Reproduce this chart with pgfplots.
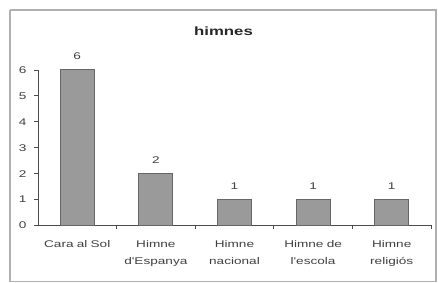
\documentclass[border=0pt]{standalone}
\usepackage{pgfplots}
\pgfplotsset{compat=1.18}
\usepackage{fontspec}
\setmainfont{Liberation Sans}
\newfontfamily\wide[FakeStretch=1.4]{Liberation Sans}
\definecolor{barfill}{HTML}{9A9A9A}
\definecolor{frame}{HTML}{B0B0B0}
\begin{document}
\begin{tikzpicture}
\path (0pt,0pt) rectangle (328.5pt,-212.25pt);
\draw[frame, line width=1.5pt] (7.5pt,-7.5pt) -- (328.5pt,-7.5pt);
\draw[frame, line width=0.8pt] (7.5pt,-7.5pt) -- (7.5pt,-211.5pt) -- (327.75pt,-211.5pt) -- (327.75pt,-7.5pt);
\node[font=\wide\fontsize{9}{10}\selectfont\bfseries, text=black!85] at (168pt,-23.25pt) {himnes};
\begin{axis}[
  at={(28.5pt,-169.5pt)}, anchor=south west,
  width=295.5pt, height=117pt, scale only axis,
  xmin=-0.5, xmax=4.5, ymin=0, ymax=6,
  axis lines=left, axis line style={-, black!70, line width=0.5pt},
  clip=false,
  ytick={0,1,2,3,4,5,6},
  xtick={0,1,2,3,4},
  xticklabels={Cara al Sol, Himne\\d'Espanya, Himne\\nacional, Himne de\\l'escola, Himne\\religi\'os},
  minor xtick={0.5,1.5,2.5,3.5,4.5},
  major x tick style={draw=none},
  minor tick length=3pt,
  tick style={black!70, line width=0.5pt},
  major tick length=3pt,
  tick align=outside,
  xticklabel style={text width=60pt, align=center, font=\wide\fontsize{7.3}{12.5}\selectfont, text=black!75, yshift=-5pt},
  yticklabel style={font=\wide\fontsize{7.3}{8}\selectfont, text=black!75, xshift=-2pt},
  /pgf/number format/assume math mode=true,
  ybar, bar width=25.5pt,
  nodes near coords,
  nodes near coords style={font=\wide\fontsize{7.3}{8}\selectfont, text=black!75, yshift=4pt},
]
\addplot[fill=barfill, draw=black!60, line width=0.6pt] coordinates {(0,6) (1,2) (2,1) (3,1) (4,1)};
\end{axis}
\end{tikzpicture}
\end{document}
